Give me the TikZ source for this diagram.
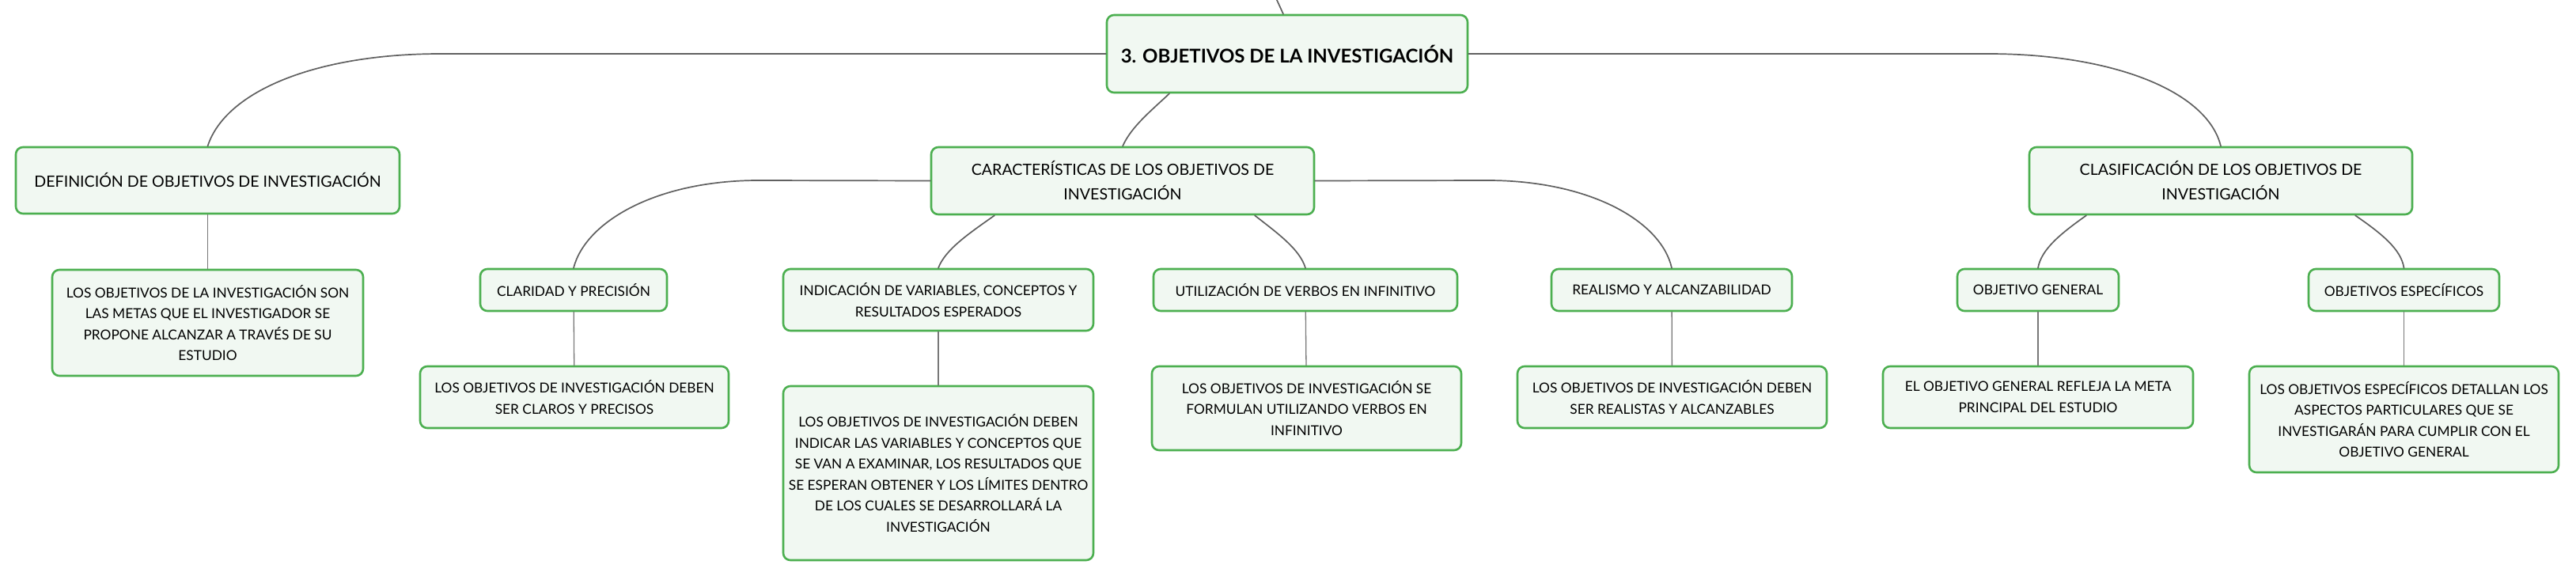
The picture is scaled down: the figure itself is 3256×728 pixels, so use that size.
\documentclass[tikz,border=0pt]{standalone}
\usepackage{fontspec}
\setmainfont{Lato}
\definecolor{verde}{HTML}{4CAF50}
\definecolor{fondo}{HTML}{F1F8F2}
\definecolor{gris}{HTML}{606060}
\begin{document}
\begin{tikzpicture}[x=1pt,y=-1pt,line join=round,line cap=round,
	caja/.style={draw=verde,fill=fondo,line width=2.6pt,rounded corners=9pt,align=center,inner sep=2pt,font=\fontsize{17.3}{26.5}\selectfont},
	ramacaja/.style={caja,font=\fontsize{19.6}{31}\selectfont},
	raizcaja/.style={caja,font=\fontsize{24}{30}\selectfont\bfseries},
	rama/.style={draw=gris,line width=1.7pt},
	hoja/.style={draw=gris!85,line width=1.3pt}]
	\useasboundingbox (0,0) rectangle (3256,728);
	%Nodo central
	\node[raizcaja,minimum width=456,minimum height=98] (raiz) at (1627,68) {3. OBJETIVOS DE LA INVESTIGACIÓN};
	\coordinate (arriba) at (1613,-2);
	%Ramas principales
	\node[ramacaja,minimum width=485,minimum height=84] (def) at (262.5,228) {DEFINICIÓN DE OBJETIVOS DE INVESTIGACIÓN};
	\node[ramacaja,minimum width=484,minimum height=85] (car) at (1419,228.5) {CARACTERÍSTICAS DE LOS OBJETIVOS DE\\INVESTIGACIÓN};
	\node[ramacaja,minimum width=484,minimum height=85] (cla) at (2807,228.5) {CLASIFICACIÓN DE LOS OBJETIVOS DE\\INVESTIGACIÓN};
	%Subtemas
	\node[caja,minimum width=236,minimum height=53] (clar) at (725,366.5) {CLARIDAD Y PRECISIÓN};
	\node[caja,minimum width=392,minimum height=78] (ind) at (1186,379) {INDICACIÓN DE VARIABLES, CONCEPTOS Y\\RESULTADOS ESPERADOS};
	\node[caja,minimum width=384,minimum height=53] (uti) at (1650,366.5) {UTILIZACIÓN DE VERBOS EN INFINITIVO};
	\node[caja,minimum width=304,minimum height=53] (rea) at (2113,366.5) {REALISMO Y ALCANZABILIDAD};
	\node[caja,minimum width=204,minimum height=53] (gen) at (2576,366.5) {OBJETIVO GENERAL};
	\node[caja,minimum width=241,minimum height=53] (esp) at (3038.5,366.5) {OBJETIVOS ESPECÍFICOS};
	%Textos
	\node[caja,minimum width=393,minimum height=134] (defT) at (262.5,408) {LOS OBJETIVOS DE LA INVESTIGACIÓN SON\\LAS METAS QUE EL INVESTIGADOR SE\\PROPONE ALCANZAR A TRAVÉS DE SU\\ESTUDIO};
	\node[caja,minimum width=390,minimum height=78] (clarT) at (726,502) {LOS OBJETIVOS DE INVESTIGACIÓN DEBEN\\SER CLAROS Y PRECISOS};
	\node[caja,minimum width=392,minimum height=220] (indT) at (1186,598) {LOS OBJETIVOS DE INVESTIGACIÓN DEBEN\\INDICAR LAS VARIABLES Y CONCEPTOS QUE\\SE VAN A EXAMINAR, LOS RESULTADOS QUE\\SE ESPERAN OBTENER Y LOS LÍMITES DENTRO\\DE LOS CUALES SE DESARROLLARÁ LA\\INVESTIGACIÓN};
	\node[caja,minimum width=391,minimum height=106] (utiT) at (1651.5,516) {LOS OBJETIVOS DE INVESTIGACIÓN SE\\FORMULAN UTILIZANDO VERBOS EN\\INFINITIVO};
	\node[caja,minimum width=391,minimum height=78] (reaT) at (2113.5,502) {LOS OBJETIVOS DE INVESTIGACIÓN DEBEN\\SER REALISTAS Y ALCANZABLES};
	\node[caja,minimum width=392,minimum height=78] (genT) at (2576,502) {EL OBJETIVO GENERAL REFLEJA LA META\\PRINCIPAL DEL ESTUDIO};
	\node[caja,minimum width=391,minimum height=134] (espT) at (3038.5,530) {LOS OBJETIVOS ESPECÍFICOS DETALLAN LOS\\ASPECTOS PARTICULARES QUE SE\\INVESTIGARÁN PARA CUMPLIR CON EL\\OBJETIVO GENERAL};
	%Conectores
	\draw[rama] (arriba) .. controls (1618,8) .. ([xshift=-5]raiz.north);
	\draw[rama] (raiz.west) -- (557,68) .. controls (400,68) and (285,115) .. (def.north);
	\draw[rama] (raiz.east) -- (2513,68) .. controls (2670,68) and (2790,115) .. (cla.north);
	\draw[rama] ([xshift=-149]raiz.south) .. controls (1455,140) and (1430,160) .. (car.north);
	\draw[rama] (car.west) -- (959,228) .. controls (830,228) and (740,280) .. (clar.north);
	\draw[rama] (car.east) -- (1880,228) .. controls (2010,228) and (2100,280) .. (rea.north);
	\draw[rama] ([xshift=-162]car.south) .. controls (1225,295) and (1195,315) .. (ind.north);
	\draw[rama] ([xshift=167]car.south) .. controls (1615,295) and (1643,315) .. (uti.north);
	\draw[rama] ([xshift=-170]cla.south) .. controls (2605,295) and (2580,315) .. (gen.north);
	\draw[rama] ([xshift=170]cla.south) .. controls (3010,295) and (3035,315) .. (esp.north);
	\draw[hoja] (def) -- (defT);
	\draw[hoja] (clar) -- (clarT);
	\draw[hoja] (ind) -- (indT);
	\draw[hoja] (uti) -- (utiT);
	\draw[hoja] (rea) -- (reaT);
	\draw[hoja] (gen) -- (genT);
	\draw[hoja] (esp) -- (espT);
\end{tikzpicture}
\end{document}
